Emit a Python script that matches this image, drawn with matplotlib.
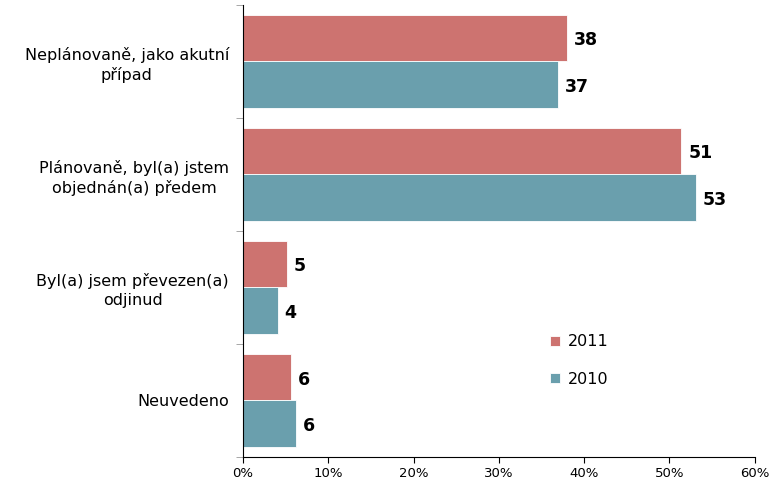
import numpy as np
import matplotlib.pyplot as plt
from matplotlib.ticker import FuncFormatter

categories = ['Neplánovaně, jako akutní\npřípad',
              'Plánovaně, byl(a) jstem\nobjednán(a) předem',
              'Byl(a) jsem převezen(a)\nodjinud',
              'Neuvedeno']
vals_2011 = [38.0, 51.4, 5.2, 5.6]
vals_2010 = [36.9, 53.1, 4.1, 6.2]

red = '#cd7370'
blue = '#6a9fad'

fig = plt.figure(figsize=(7.71, 4.8), dpi=100)
ax = fig.add_axes([0.315, 0.048, 0.664, 0.942])

y = np.arange(len(categories))
h = 0.41
b1 = ax.barh(y - h / 2, vals_2011, height=h, color=red, edgecolor='white', linewidth=0.6, label='2011')
b2 = ax.barh(y + h / 2, vals_2010, height=h, color=blue, edgecolor='white', linewidth=0.6, label='2010')

for bars, vals in ((b1, vals_2011), (b2, vals_2010)):
    for bar, v in zip(bars, vals):
        ax.text(v + 0.8, bar.get_y() + bar.get_height() / 2 + 0.02, f'{v:.0f}',
                va='center', ha='left', fontsize=12.5, fontweight='bold')

ax.set_ylim(len(categories) - 0.5, -0.5)
ax.set_xlim(0, 60)
ax.set_xticks(np.arange(0, 61, 10))
ax.xaxis.set_major_formatter(FuncFormatter(lambda x, p: f'{x:.0f}%'))
ax.tick_params(axis='x', labelsize=9.5, length=4, direction='out')

ax.set_yticks(y)
ax.set_yticklabels(categories, fontsize=11.5, multialignment='center', linespacing=1.3)
ax.tick_params(axis='y', length=0, pad=10)
ax.set_yticks(np.arange(-0.5, len(categories)), minor=True)
ax.tick_params(axis='y', which='minor', length=5, color='#999999')

for s in ('top', 'right'):
    ax.spines[s].set_visible(False)

ax.legend(loc='upper left', bbox_to_anchor=(0.572, 0.303), frameon=False,
          fontsize=11.5, handlelength=0.6, handleheight=0.6, labelspacing=1.4,
          handletextpad=0.5)

fig.savefig('out.png', dpi=100)
